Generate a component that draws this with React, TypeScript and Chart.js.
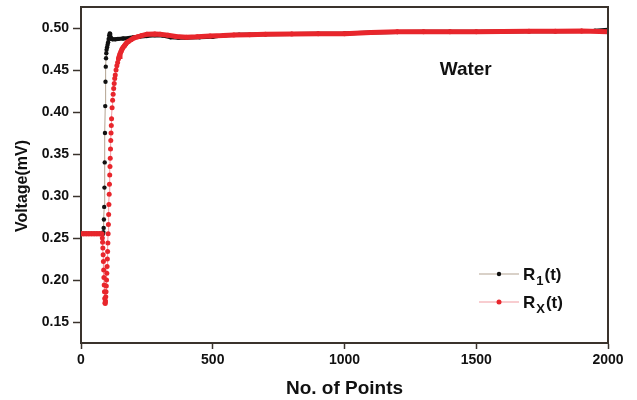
import React, { useEffect, useRef } from "react";
import { Chart, registerables } from "chart.js";

Chart.register(...registerables);

const xTicks = [0, 500, 1000, 1500, 2000];
const yTicks = [0.15, 0.2, 0.25, 0.3, 0.35, 0.4, 0.45, 0.5];

const r1X = [0, 10, 20, 30, 40, 50, 60, 70, 80, 84, 85, 86, 87, 88, 89, 90, 91, 92, 93, 94, 95, 96, 97, 99, 101, 103, 105, 107, 109, 111, 113, 116, 120, 130, 140, 160, 180, 200, 220, 250, 280, 310, 340, 370, 400, 450, 500, 550, 600, 700, 800, 900, 1000, 1100, 1200, 1300, 1400, 1500, 1600, 1700, 1800, 1900, 1950, 2000];
const r1Y = [0.255, 0.255, 0.255, 0.255, 0.255, 0.255, 0.255, 0.255, 0.255, 0.255, 0.257, 0.262, 0.272, 0.287, 0.31, 0.34, 0.375, 0.407, 0.436, 0.454, 0.464, 0.47, 0.474, 0.477, 0.48, 0.483, 0.487, 0.491, 0.4935, 0.493, 0.489, 0.487, 0.4865, 0.4865, 0.487, 0.4875, 0.488, 0.489, 0.4895, 0.4905, 0.4915, 0.491, 0.489, 0.4885, 0.4885, 0.489, 0.4895, 0.4915, 0.492, 0.4925, 0.493, 0.4932, 0.4935, 0.4945, 0.4953, 0.4955, 0.4955, 0.4956, 0.4957, 0.496, 0.4962, 0.4964, 0.4968, 0.4978];

const rxX = [0, 10, 20, 30, 40, 50, 60, 70, 80, 81, 82, 83, 84, 85, 86, 87, 88, 89, 90, 91, 92, 93, 94, 95, 96, 97, 98, 99, 100, 101, 102, 103, 104, 105, 106, 107, 108, 109, 110, 111, 112, 113, 114, 115, 116, 118, 120, 122, 124, 126, 128, 130, 133, 136, 139, 142, 145, 148, 152, 156, 160, 165, 170, 175, 180, 190, 200, 215, 230, 250, 280, 300, 330, 360, 400, 440, 490, 540, 580, 640, 700, 800, 900, 1000, 1100, 1200, 1300, 1400, 1500, 1600, 1700, 1800, 1900, 2000];
const rxY = [0.255, 0.255, 0.255, 0.255, 0.255, 0.255, 0.255, 0.255, 0.255, 0.25, 0.245, 0.238, 0.23, 0.222, 0.212, 0.203, 0.194, 0.186, 0.178, 0.173, 0.172, 0.175, 0.18, 0.186, 0.193, 0.2, 0.208, 0.216, 0.225, 0.234, 0.244, 0.255, 0.266, 0.278, 0.29, 0.302, 0.314, 0.325, 0.335, 0.345, 0.356, 0.366, 0.375, 0.384, 0.392, 0.405, 0.414, 0.421, 0.428, 0.434, 0.44, 0.444, 0.45, 0.455, 0.459, 0.463, 0.466, 0.469, 0.472, 0.475, 0.477, 0.479, 0.481, 0.483, 0.484, 0.486, 0.488, 0.4895, 0.491, 0.4925, 0.4928, 0.4925, 0.4915, 0.49, 0.489, 0.4895, 0.4905, 0.491, 0.4917, 0.492, 0.4925, 0.493, 0.4932, 0.4933, 0.4945, 0.4955, 0.4955, 0.4955, 0.4956, 0.4957, 0.496, 0.4962, 0.4963, 0.4955];

const FONT = "'Liberation Sans', Arial, Helvetica, sans-serif";
const AXIS = "#3a332c";
const RED = "#e8262c";
const RED_LIGHT = "#f29ba1";
const BLACK = "#111111";
const BLACK_LIGHT = "#b3a391";

function toPoints(xs: number[], ys: number[]) {
  return xs.map((x, i) => ({ x, y: ys[i] }));
}

function isThick(ctx: any) {
  const dx = Math.abs(ctx.p1.parsed.x - ctx.p0.parsed.x);
  const dy = Math.abs(ctx.p1.parsed.y - ctx.p0.parsed.y);
  return dy / Math.max(dx, 1e-9) < 0.0012;
}

const decorPlugin = {
  id: "decor",
  afterDraw(chart: any) {
    const ctx = chart.ctx as CanvasRenderingContext2D;
    const a = chart.chartArea;
    const xs = chart.scales.x;
    const ys = chart.scales.y;
    ctx.save();
    // frame top & right
    ctx.strokeStyle = AXIS;
    ctx.lineWidth = 2;
    ctx.beginPath();
    ctx.moveTo(a.left, a.top);
    ctx.lineTo(a.right, a.top);
    ctx.lineTo(a.right, a.bottom);
    ctx.stroke();

    ctx.fillStyle = "#111";
    // Water label
    ctx.font = `bold 19px ${FONT}`;
    ctx.textAlign = "center";
    ctx.textBaseline = "middle";
    ctx.fillText("Water", xs.getPixelForValue(1460), ys.getPixelForValue(0.45));

    // X title
    ctx.font = `bold 19px ${FONT}`;
    ctx.fillText("No. of Points", (a.left + a.right) / 2, a.bottom + 46);

    // Y title
    ctx.save();
    ctx.translate(23, (a.top + a.bottom) / 2 + 11);
    ctx.rotate(-Math.PI / 2);
    ctx.font = `bold 16px ${FONT}`;
    ctx.fillText("Voltage(mV)", 0, 0);
    ctx.restore();

    // Legend
    const items = [
      { sub: "1", line: BLACK_LIGHT, dot: BLACK, r: 2.2 },
      { sub: "X", line: RED_LIGHT, dot: RED, r: 2.5 },
    ];
    const lx0 = a.right - 129;
    const lx1 = a.right - 89;
    items.forEach((it, i) => {
      const y = a.top + 267 + i * 28;
      ctx.strokeStyle = it.line;
      ctx.lineWidth = 1.2;
      ctx.beginPath();
      ctx.moveTo(lx0, y);
      ctx.lineTo(lx1, y);
      ctx.stroke();
      ctx.fillStyle = it.dot;
      ctx.beginPath();
      ctx.arc((lx0 + lx1) / 2, y, it.r, 0, Math.PI * 2);
      ctx.fill();
      ctx.fillStyle = "#111";
      ctx.textAlign = "left";
      ctx.textBaseline = "alphabetic";
      const base = y + 6;
      let tx = lx1 + 4;
      ctx.font = `bold 17px ${FONT}`;
      ctx.fillText("R", tx, base);
      tx += ctx.measureText("R").width + 1;
      ctx.font = `bold 13px ${FONT}`;
      ctx.fillText(it.sub, tx, base + 5);
      tx += ctx.measureText(it.sub).width + 1;
      ctx.font = `bold 17px ${FONT}`;
      ctx.fillText("(t)", tx, base);
    });
    ctx.restore();
  },
};

export default function App() {
  const ref = useRef<HTMLCanvasElement | null>(null);

  useEffect(() => {
    document.body.style.margin = "0";
    const canvas = ref.current;
    if (!canvas) return;
    const chart = new Chart(canvas, {
      type: "line",
      data: {
        datasets: [
          {
            label: "Rx(t)",
            data: toPoints(rxX, rxY),
            borderColor: RED,
            borderWidth: 5,
            pointRadius: 2.5,
            pointBackgroundColor: RED,
            pointBorderWidth: 0,
            tension: 0,
            segment: {
              borderWidth: (c: any) => (isThick(c) ? 5 : 1),
              borderColor: (c: any) => (isThick(c) ? RED : RED_LIGHT),
            },
          } as any,
          {
            label: "R1(t)",
            data: toPoints(r1X, r1Y),
            borderColor: BLACK,
            borderWidth: 4,
            pointRadius: 2.2,
            pointBackgroundColor: BLACK,
            pointBorderWidth: 0,
            tension: 0,
            segment: {
              borderWidth: (c: any) => (isThick(c) ? 4 : 1),
              borderColor: (c: any) => (isThick(c) ? BLACK : BLACK_LIGHT),
            },
          } as any,
        ],
      },
      options: {
        animation: false,
        responsive: false,
        devicePixelRatio: 1,
        layout: { padding: { top: 7, right: 29, left: 0, bottom: 0 } },
        plugins: { legend: { display: false }, tooltip: { enabled: false } },
        scales: {
          x: {
            type: "linear",
            min: 0,
            max: 2000,
            afterBuildTicks: (s: any) => {
              s.ticks = xTicks.map((v) => ({ value: v }));
            },
            afterFit: (s: any) => {
              s.height = 57;
              s.paddingLeft = 0;
              s.paddingRight = 0;
            },
            ticks: {
              font: { family: FONT, size: 14, weight: "bold" },
              color: "#111",
              padding: 3,
              maxRotation: 0,
              callback: (v: any) => String(v),
            },
            grid: {
              drawOnChartArea: false,
              drawTicks: true,
              tickLength: 6,
              tickWidth: 1.5,
              tickColor: AXIS,
              color: AXIS,
            },
            border: { color: AXIS, width: 2 },
          },
          y: {
            type: "linear",
            min: 0.125,
            max: 0.525,
            afterBuildTicks: (s: any) => {
              s.ticks = yTicks.map((v) => ({ value: v }));
            },
            afterFit: (s: any) => {
              s.width = 81;
              s.paddingTop = 0;
              s.paddingBottom = 0;
            },
            ticks: {
              font: { family: FONT, size: 14, weight: "bold" },
              color: "#111",
              padding: 4,
              callback: (v: any) => Number(v).toFixed(2),
            },
            grid: {
              drawOnChartArea: false,
              drawTicks: true,
              tickLength: 8,
              tickWidth: 1.5,
              tickColor: AXIS,
              color: AXIS,
            },
            border: { color: AXIS, width: 2 },
          },
        },
      } as any,
      plugins: [decorPlugin],
    });
    return () => chart.destroy();
  }, []);

  return (
    <div style={{ width: 637, height: 400, background: "#fff" }}>
      <canvas ref={ref} width={637} height={400} style={{ display: "block" }} />
    </div>
  );
}
